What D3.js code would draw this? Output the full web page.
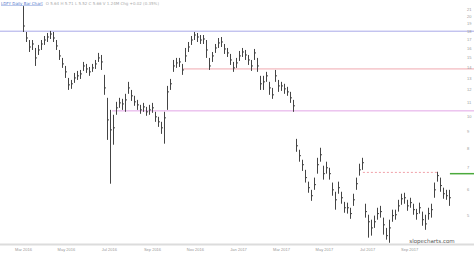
<!DOCTYPE html>
<html>
<head>
<meta charset="utf-8">
<script src="https://cdn.jsdelivr.net/npm/d3@7"></script>
<style>
  body { margin: 0; background: #fff; }
  svg { display: block; font-family: "DejaVu Sans", sans-serif; }
</style>
</head>
<body>
<div class="chart"></div>
<script>
  var w = 474;
  var h = 253;

  // daily bars (high / low / close)
  var high = [21.43,17.90,16.93,16.93,16.02,16.36,16.93,17.41,17.78,18.03,17.90,16.93,15.80,14.95,14.14,13.01,12.83,13.47,13.66,13.75,
    14.54,14.34,14.04,14.34,14.74,15.48,15.26,13.29,11.33,10.42,10.07,11.02,11.33,11.25,11.65,12.66,11.97,11.49,11.17,10.79,
    10.94,10.64,10.79,10.94,10.28,9.93,9.59,10.28,12.31,12.92,14.74,14.95,14.95,14.34,16.02,16.70,17.41,17.90,17.78,17.53,
    17.53,16.93,14.95,15.58,16.47,17.17,17.29,16.47,16.02,15.37,14.54,14.95,15.69,16.02,15.80,15.26,14.74,15.91,14.95,13.20,
    13.20,13.57,12.66,12.14,13.75,12.83,12.66,12.49,12.23,11.81,11.17,8.52,7.90,7.37,6.87,6.33,5.98,6.51,7.47,8.01,
    7.07,7.27,6.97,6.29,5.90,6.33,5.90,5.50,5.47,5.28,5.82,6.51,7.17,7.47,5.43,5.03,4.86,5.00,5.28,5.35,
    4.93,4.59,4.86,5.21,5.21,5.58,5.82,5.86,5.58,5.66,5.43,5.24,5.47,5.14,5.03,5.28,5.43,6.29,6.78,6.51,
    6.07,5.98,5.98];
  var low = [17.90,16.70,15.58,15.80,14.14,15.26,15.80,16.36,16.70,17.05,16.70,15.80,14.74,13.95,13.01,11.97,12.06,12.57,12.83,12.92,
    13.66,13.47,13.20,13.57,13.85,14.54,13.75,11.57,8.46,6.24,8.18,10.07,10.57,10.42,10.28,11.65,11.09,10.72,10.42,10.14,
    10.28,10.00,10.07,10.21,9.59,9.26,8.82,8.24,10.42,11.97,13.57,13.95,14.04,13.29,14.54,15.58,16.36,16.93,16.70,16.47,
    16.47,14.95,13.75,14.54,15.48,16.02,16.13,15.37,15.05,14.24,13.57,13.95,14.64,15.05,14.74,14.24,13.66,14.74,13.57,11.97,
    11.97,12.66,11.57,11.25,12.66,11.81,11.89,11.65,11.49,10.94,10.28,7.79,7.27,6.82,6.29,5.86,5.54,5.98,6.69,7.27,
    6.42,6.69,6.42,5.74,5.21,5.82,5.43,5.10,5.07,4.89,5.35,5.98,6.60,6.87,4.93,4.29,4.35,4.59,4.86,4.93,
    4.38,4.23,4.14,4.79,4.86,5.14,5.39,5.43,5.17,5.28,5.03,4.86,5.07,4.66,4.53,4.86,4.93,5.66,6.33,5.90,
    5.62,5.58,5.35];
  var close = [18.66,17.17,16.13,16.47,14.95,15.80,16.47,16.93,17.29,17.65,17.17,16.25,15.16,14.34,13.57,12.40,12.49,13.01,13.20,13.38,
    14.14,13.85,13.57,13.95,14.34,14.95,14.54,12.14,9.72,9.07,9.20,10.57,10.94,10.86,11.17,12.14,11.49,11.02,10.79,10.42,
    10.64,10.28,10.42,10.57,9.93,9.59,9.20,9.86,11.81,12.49,14.14,14.44,14.54,13.75,15.16,16.13,16.93,17.53,17.29,16.93,
    17.05,15.80,14.14,15.16,16.02,16.59,16.70,15.91,15.48,14.74,13.95,14.44,15.16,15.58,15.26,14.74,14.14,15.48,14.14,12.49,
    12.66,13.20,12.14,11.57,13.20,12.31,12.31,12.06,11.81,11.33,10.72,8.12,7.58,7.12,6.51,6.07,5.74,6.20,7.12,7.63,
    6.69,6.97,6.69,5.98,5.58,6.07,5.66,5.28,5.28,5.07,5.58,6.24,6.87,7.22,5.14,4.79,4.59,4.79,5.07,5.14,
    4.69,4.35,4.59,5.00,5.03,5.35,5.62,5.66,5.35,5.47,5.21,5.07,5.28,4.86,4.72,5.07,5.21,5.98,6.60,6.16,
    5.82,5.74,5.66];

  var priceTicks = [21,20,19,18,17,16,15,14,13,12,11,10,9,8,7,6,5];
  var dateTicks = [0,14.3,28.6,43,57.3,71.7,86,100.3,114.7,128.7];
  var dateLabels = ["Mar 2016","May 2016","Jul 2016","Sep 2016","Nov 2016","Jan 2017","Mar 2017","May 2017","Jul 2017","Sep 2017"];

  // drawn trend lines: [price, from bar, to bar]
  var levelBlue = [18.0, -8, 152];
  var levelRed = [13.85, 53, 152];
  var levelPink = [10.35, 29.7, 152];
  var levelDash = [6.75, 113.3, 138];
  var levelGreen = [6.69, 142.3, 152];

  var svg = d3.select(".chart").append("svg").attr("width", w).attr("height", h);
  svg.append("rect").attr("width", w).attr("height", h).attr("fill", "#fff");

  var x = d3.scaleLinear().domain([0, close.length - 1]).range([23, 449]);
  var y = d3.scaleLog().domain([5, 21]).range([215.6, 9]);

  // bottom band
  svg.append("rect").attr("x", 0).attr("y", 243.5).attr("width", w).attr("height", 2).attr("fill", "#dcdcdc");

  function level(l, color, width, dash) {
    svg.append("line")
       .attr("x1", x(l[1])).attr("x2", x(l[2]))
       .attr("y1", y(l[0])).attr("y2", y(l[0]))
       .attr("stroke", color)
       .attr("stroke-width", width)
       .attr("stroke-dasharray", dash);
  }
  level(levelBlue, "#a9a9e8", 1, null);
  level(levelRed, "#f0a8b0", 1, null);
  level(levelPink, "#e2a4e6", 1, null);
  level(levelDash, "#f0a0a8", 1, "2,2");
  level(levelGreen, "#4caa3c", 1.5, null);

  // bars
  var bars = svg.append("g").attr("stroke", "#444").attr("stroke-width", 1);
  bars.selectAll(".hl")
      .data(close)
      .enter()
      .append("line")
      .attr("class", "hl")
      .attr("x1", function(d, i) { return x(i) + 0.5; })
      .attr("x2", function(d, i) { return x(i) + 0.5; })
      .attr("y1", function(d, i) { return y(high[i]); })
      .attr("y2", function(d, i) { return y(low[i]); });
  bars.selectAll(".c")
      .data(close)
      .enter()
      .append("line")
      .attr("class", "c")
      .attr("x1", function(d, i) { return x(i) + 0.5; })
      .attr("x2", function(d, i) { return x(i) + 2; })
      .attr("y1", function(d) { return y(d); })
      .attr("y2", function(d) { return y(d); });

  // axes
  var yAxis = d3.axisRight(y).tickValues(priceTicks).tickSize(0).tickFormat(d3.format("d"));
  var gy = svg.append("g").attr("transform", "translate(466,0)").call(yAxis);
  gy.select(".domain").remove();
  gy.selectAll("text").attr("font-size", 4).attr("fill", "#999").attr("x", 1);

  var xAxis = d3.axisBottom(x).tickValues(dateTicks).tickSize(0).tickFormat(function(d, i) { return dateLabels[i]; });
  var gx = svg.append("g").attr("transform", "translate(0,246)").call(xAxis);
  gx.select(".domain").remove();
  gx.selectAll("text").attr("font-size", 4).attr("fill", "#999").attr("dy", "0.5em");

  // header + watermark
  var head = svg.append("text").attr("x", 1).attr("y", 4.5).attr("font-size", 4);
  head.append("tspan").attr("fill", "#5577cc").attr("text-decoration", "underline").text("LDFY Daily Bar Chart");
  head.append("tspan").attr("fill", "#aaa").attr("dx", 3)
      .text("O 5.64  H 5.71  L 5.52  C 5.66  V 1.24M  Chg +0.02 (0.35%)");

  svg.append("text").attr("x", 432).attr("y", 242.5).attr("text-anchor", "middle")
     .attr("font-size", 5.5).attr("fill", "#555").text("slopecharts.com");
</script>
</body>
</html>
